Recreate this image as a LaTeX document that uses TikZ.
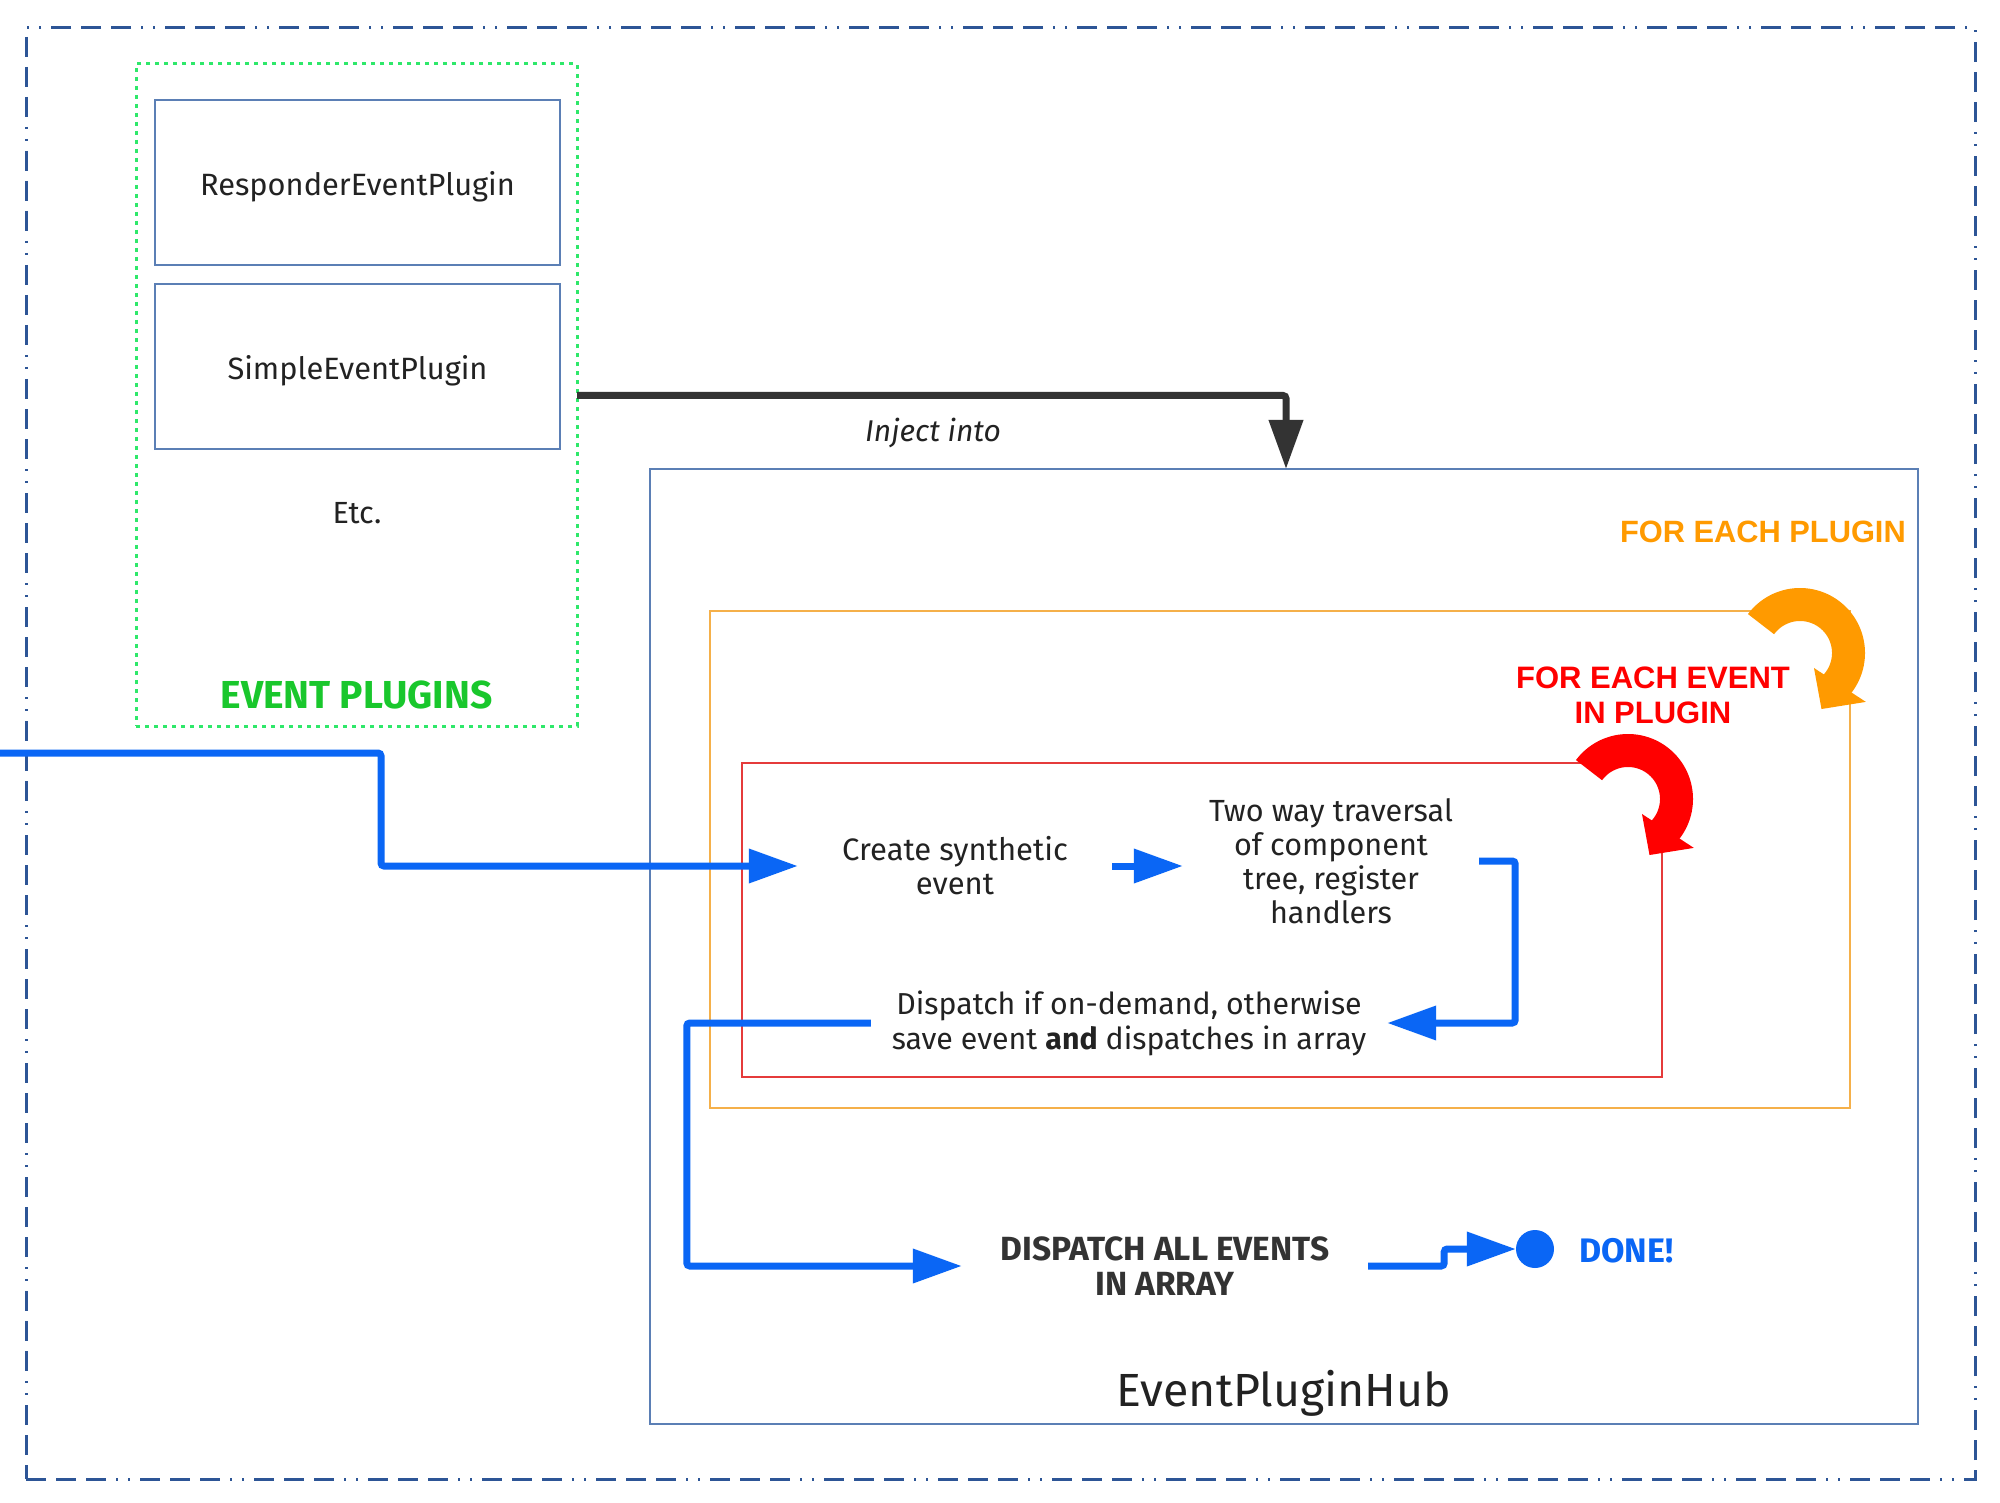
\documentclass[tikz,border=0pt]{standalone}
\usepackage{fontspec}
\setmainfont{Fira Sans}
\newfontfamily\arialfont{Liberation Sans}
\usetikzlibrary{arrows.meta,calc}

\definecolor{outerblue}{HTML}{2D5596}
\definecolor{boxblue}{HTML}{5B7FB5}
\definecolor{plugingreen}{HTML}{2EE86A}
\definecolor{textgreen}{HTML}{19C72C}
\definecolor{orangebox}{HTML}{F5B04A}
\definecolor{redbox}{HTML}{E53B3B}
\definecolor{flowblue}{HTML}{0A66F5}
\definecolor{darkline}{HTML}{333333}
\definecolor{arroworange}{HTML}{FF9A00}
\definecolor{arrowred}{HTML}{FF0000}
\definecolor{txt}{HTML}{222222}

\tikzset{
  outerbox/.style={draw=outerblue, line width=3pt,
    dash pattern=on 20pt off 10pt on 20pt off 10pt on 20pt off 10pt on 2pt off 10pt on 2pt off 10pt,
    inner sep=0pt},
  greenbox/.style={draw=plugingreen, line width=3pt, dash pattern=on 4pt off 5pt, inner sep=0pt},
  plugbox/.style={draw=boxblue, line width=1.8pt, inner sep=0pt, text=txt,
    text height=26pt, text depth=0pt,
    font=\fontsize{30.8}{34}\selectfont},
  hubbox/.style={draw=boxblue, line width=1.8pt, inner sep=0pt},
  orbox/.style={draw=orangebox, line width=2pt, inner sep=0pt},
  rdbox/.style={draw=redbox, line width=1.8pt, inner sep=0pt},
  flowtext/.style={inner sep=0pt, align=center, text=txt, font=\fontsize{30.6}{34}\selectfont},
  flow/.style={draw=flowblue, line width=7pt, rounded corners=3pt,
    -{Triangle[width=33pt,length=49pt]}},
  inject/.style={draw=darkline, line width=7pt, rounded corners=3pt,
    -{Triangle[width=33pt,length=49pt]}},
}

\begin{document}
\begin{tikzpicture}[x=1pt,y=-1pt]
\useasboundingbox (0,0) rectangle (2000,1503);
\fill[white] (0,0) rectangle (2000,1503);

% outer dash-dot frame
\node[outerbox, minimum width=1949pt, minimum height=1451pt] (outer) at (1000.5,753.5) {};

% event plugins group
\node[greenbox, minimum width=441pt, minimum height=662pt] (plugins) at (356.5,395) {};
\node[plugbox, minimum width=405pt, minimum height=165pt] (resp) at (357.5,182.5) {ResponderEventPlugin};
\node[plugbox, minimum width=405pt, minimum height=165pt] (simple) at (357.5,366.5) {SimpleEventPlugin};
\node[flowtext] (etc) at (357,513) {Etc.};
\node[inner sep=0pt, text=textgreen, font=\fontsize{39}{44}\selectfont\bfseries] (eplabel) at (356.5,695) {EVENT PLUGINS};

% hub and loops
\node[hubbox, minimum width=1268pt, minimum height=955pt] (hub) at (1284,946.5) {};
\node[orbox, minimum width=1140pt, minimum height=497pt] (plugloop) at (1280,859.5) {};
\node[rdbox, minimum width=920pt, minimum height=314pt] (eventloop) at (1202,920) {};
\node[inner sep=0pt, anchor=base, text=txt, font=\fontsize{46.5}{52}\selectfont] (hublabel) at (1284,1406) {EventPluginHub};

\node[inner sep=0pt, anchor=east, text=arroworange, font=\arialfont\fontsize{30.8}{35}\selectfont\bfseries] (fepl) at (1906,531.5) {FOR EACH PLUGIN};
\node[inner sep=0pt, align=center, text=arrowred, font=\arialfont\fontsize{31}{35}\selectfont\bfseries] (feev) at (1653,695.5) {FOR EACH EVENT\\IN PLUGIN};

% curved loop arrows
\draw[arroworange, line width=33pt] plot[domain=-143.5:45, samples=80] ({1800+48.5*cos(\x)},{653+48.5*sin(\x)});
\fill[arroworange, shift={(1800,653)}] (47:20.5) -- (36.6:82) -- (69:60) -- cycle;
\draw[arrowred, line width=33pt] plot[domain=-143.5:45, samples=80] ({1628+48.5*cos(\x)},{799+48.5*sin(\x)});
\fill[arrowred, shift={(1628,799)}] (47:20.5) -- (36.6:82) -- (69:60) -- cycle;

% flow text nodes
\node[flowtext, minimum width=314pt, font=\fontsize{31}{34}\selectfont] (create) at (955,866) {Create synthetic\\event};
\node[flowtext, minimum width=296pt] (two) at (1331,861) {Two way traversal\\of component\\tree, register\\handlers};
\node[flowtext, minimum width=516pt, font=\fontsize{30.3}{35}\selectfont] (dispatch) at (1129,1023) {Dispatch if on-demand, otherwise\\save event \textbf{and} dispatches in array};
\node[flowtext, minimum width=406pt, text=darkline, font=\fontsize{33.5}{35}\selectfont\bfseries] (dall) at (1165,1266) {DISPATCH ALL EVENTS\\IN ARRAY};
\node[circle, fill=flowblue, minimum size=38pt, inner sep=0pt] (dot) at (1535,1249) {};
\node[inner sep=0pt, anchor=base west, text=flowblue, font=\fontsize{34}{38}\selectfont\bfseries] (done) at (1579,1262) {DONE!};

% inject connector
\coordinate (injS) at (577,395.5);
\coordinate (injT) at (1286,469);
\draw[inject] (injS) -| (injT);
\node[inner sep=0pt, anchor=base, text=txt, font=\fontsize{30}{34}\selectfont\itshape] (injlabel) at (933,442) {Inject into};

% blue flow connectors
\coordinate (inpt) at (0,753);
\draw[flow] (inpt) -- (381,753) |- (create.west);
\draw[flow] (create.east) -- (create.east -| two.west);
\draw[flow] (two.east) -- ++(36,0) |- (dispatch.east);
\draw[flow] (dispatch.west) -- ++(-184,0) |- (dall.west);
\draw[flow] (dall.east) -- ++(76,0) |- (dot.west);
\end{tikzpicture}
\end{document}
